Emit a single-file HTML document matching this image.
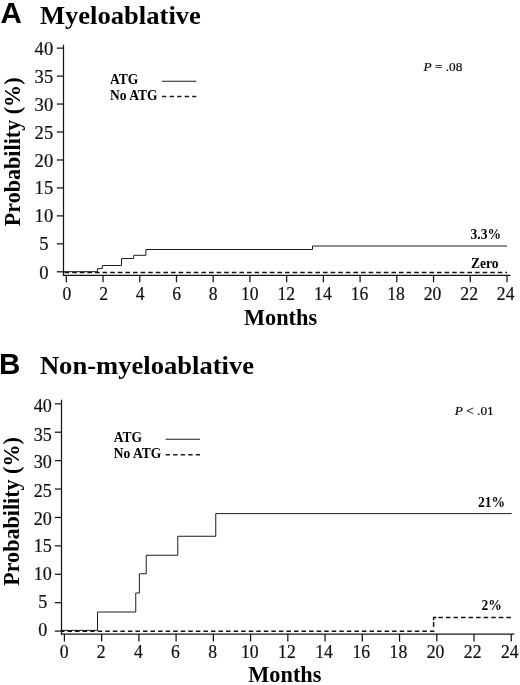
<!DOCTYPE html>
<html><head><meta charset="utf-8"><title>Figure</title>
<style>
html,body{margin:0;padding:0;background:#fff;}
svg{display:block;}
.s{font-family:"Liberation Serif",serif;}
.b{font-family:"Liberation Serif",serif;font-weight:bold;}
.h{font-family:"Liberation Sans",sans-serif;font-weight:bold;}
</style></head><body>
<svg width="520" height="685" viewBox="0 0 520 685">
<rect width="520" height="685" fill="#fff"/>
<g>
<text class="h" x="0.6" y="23.0" font-size="29.6">A</text>
<text class="b" transform="translate(39.9 23.6) scale(1.047 1)" font-size="25.4">Myeloablative</text>
<g stroke="#141414" stroke-width="1.25" fill="none">
<path d="M63.5 44.8V275.95000000000005"/>
<path d="M62.9 275.35H510.5"/>
<path d="M56.8 271.80H63.5"/>
<path d="M56.8 243.84H63.5"/>
<path d="M56.8 215.89H63.5"/>
<path d="M56.8 187.93H63.5"/>
<path d="M56.8 159.98H63.5"/>
<path d="M56.8 132.02H63.5"/>
<path d="M56.8 104.06H63.5"/>
<path d="M56.8 76.11H63.5"/>
<path d="M56.8 48.15H63.5"/>
<path d="M66.30 275.35V282.25"/>
<path d="M103.03 275.35V282.25"/>
<path d="M139.75 275.35V282.25"/>
<path d="M176.48 275.35V282.25"/>
<path d="M213.20 275.35V282.25"/>
<path d="M249.93 275.35V282.25"/>
<path d="M286.65 275.35V282.25"/>
<path d="M323.38 275.35V282.25"/>
<path d="M360.10 275.35V282.25"/>
<path d="M396.83 275.35V282.25"/>
<path d="M433.55 275.35V282.25"/>
<path d="M470.28 275.35V282.25"/>
<path d="M507.00 275.35V282.25"/>
</g>
<g class="s" font-size="17.4" fill="#111" stroke="#111" stroke-width="0.2">
<text transform="translate(43.9 278.76) scale(0.975 1)" font-size="19.1" text-anchor="middle">0</text>
<text transform="translate(43.9 250.06) scale(0.975 1)" font-size="19.1" text-anchor="middle">5</text>
<text transform="translate(43.9 222.16) scale(0.975 1)" font-size="19.1" text-anchor="middle">10</text>
<text transform="translate(43.9 194.36) scale(0.975 1)" font-size="19.1" text-anchor="middle">15</text>
<text transform="translate(43.9 166.51) scale(0.975 1)" font-size="19.1" text-anchor="middle">20</text>
<text transform="translate(43.9 138.66) scale(0.975 1)" font-size="19.1" text-anchor="middle">25</text>
<text transform="translate(43.9 110.86) scale(0.975 1)" font-size="19.1" text-anchor="middle">30</text>
<text transform="translate(43.9 83.06) scale(0.975 1)" font-size="19.1" text-anchor="middle">35</text>
<text transform="translate(43.9 54.66) scale(0.975 1)" font-size="19.1" text-anchor="middle">40</text>
<text transform="translate(67.00 299.9) scale(0.92 1)" font-size="19.2" text-anchor="middle">0</text>
<text transform="translate(103.56 299.9) scale(0.92 1)" font-size="19.2" text-anchor="middle">2</text>
<text transform="translate(140.12 299.9) scale(0.92 1)" font-size="19.2" text-anchor="middle">4</text>
<text transform="translate(176.68 299.9) scale(0.92 1)" font-size="19.2" text-anchor="middle">6</text>
<text transform="translate(213.23 299.9) scale(0.92 1)" font-size="19.2" text-anchor="middle">8</text>
<text transform="translate(249.79 299.9) scale(0.92 1)" font-size="19.2" text-anchor="middle">10</text>
<text transform="translate(286.35 299.9) scale(0.92 1)" font-size="19.2" text-anchor="middle">12</text>
<text transform="translate(322.91 299.9) scale(0.92 1)" font-size="19.2" text-anchor="middle">14</text>
<text transform="translate(359.47 299.9) scale(0.92 1)" font-size="19.2" text-anchor="middle">16</text>
<text transform="translate(396.02 299.9) scale(0.92 1)" font-size="19.2" text-anchor="middle">18</text>
<text transform="translate(432.58 299.9) scale(0.92 1)" font-size="19.2" text-anchor="middle">20</text>
<text transform="translate(469.14 299.9) scale(0.92 1)" font-size="19.2" text-anchor="middle">22</text>
<text transform="translate(505.70 299.9) scale(0.92 1)" font-size="19.2" text-anchor="middle">24</text>
</g>
<text class="b" font-size="22.1" transform="translate(20.3 226.2) rotate(-90)">Probability (%)</text>
<text class="b" font-size="22.3" x="244" y="324.7">Months</text>
<text class="s" font-size="13.3" x="423.5" y="71" stroke="#111" stroke-width="0.2"><tspan font-style="italic">P</tspan> = .08</text>
<text class="b" font-size="14.3" transform="translate(110 84.4) scale(0.945 1)">ATG</text>
<text class="b" font-size="14.3" transform="translate(110 100.0) scale(0.945 1)">No ATG</text>
<path d="M162 81.3H196.3" stroke="#1c1c1c" stroke-width="1.05" fill="none"/>
<path d="M162 96.5H196.3" stroke="#1c1c1c" stroke-width="1.5" stroke-dasharray="4.4 3.15" fill="none"/>
<path d="M63.5 271.7H97.5V268.6H102.3V265.5H121.5V258.5H133.7V255.3H145.9V249.5H312.5V246H507" stroke="#1c1c1c" stroke-width="1.0" fill="none"/>
<path d="M64.6 272.5H507" stroke="#111" stroke-width="1.45" stroke-dasharray="4.6 3.0" fill="none"/>
<text class="b" font-size="14.3" transform="translate(470.5 238.60000000000002) scale(0.945 1)">3.3%</text>
<text class="b" font-size="14.3" transform="translate(471 267.8) scale(0.945 1)">Zero</text>
</g>
<g>
<text class="h" x="-0.9" y="373.7" font-size="29.6">B</text>
<text class="b" transform="translate(39.9 374.4) scale(1.047 1)" font-size="25.4">Non-myeloablative</text>
<g stroke="#141414" stroke-width="1.25" fill="none">
<path d="M61.5 399.7V634.6"/>
<path d="M60.9 634.0H514.3"/>
<path d="M54.8 631.10H61.5"/>
<path d="M54.8 602.69H61.5"/>
<path d="M54.8 574.27H61.5"/>
<path d="M54.8 545.86H61.5"/>
<path d="M54.8 517.45H61.5"/>
<path d="M54.8 489.04H61.5"/>
<path d="M54.8 460.62H61.5"/>
<path d="M54.8 432.21H61.5"/>
<path d="M54.8 403.80H61.5"/>
<path d="M64.40 634.0V641.6"/>
<path d="M101.64 634.0V641.6"/>
<path d="M138.88 634.0V641.6"/>
<path d="M176.11 634.0V641.6"/>
<path d="M213.35 634.0V641.6"/>
<path d="M250.59 634.0V641.6"/>
<path d="M287.83 634.0V641.6"/>
<path d="M325.06 634.0V641.6"/>
<path d="M362.30 634.0V641.6"/>
<path d="M399.54 634.0V641.6"/>
<path d="M436.78 634.0V641.6"/>
<path d="M474.01 634.0V641.6"/>
<path d="M511.25 634.0V641.6"/>
</g>
<g class="s" font-size="17.4" fill="#111" stroke="#111" stroke-width="0.2">
<text transform="translate(42.7 636.32) scale(0.94 1)" font-size="19.3" text-anchor="middle">0</text>
<text transform="translate(42.7 608.02) scale(0.94 1)" font-size="19.3" text-anchor="middle">5</text>
<text transform="translate(42.7 580.22) scale(0.94 1)" font-size="19.3" text-anchor="middle">10</text>
<text transform="translate(42.7 552.42) scale(0.94 1)" font-size="19.3" text-anchor="middle">15</text>
<text transform="translate(42.7 524.62) scale(0.94 1)" font-size="19.3" text-anchor="middle">20</text>
<text transform="translate(42.7 496.82) scale(0.94 1)" font-size="19.3" text-anchor="middle">25</text>
<text transform="translate(42.7 468.42) scale(0.94 1)" font-size="19.3" text-anchor="middle">30</text>
<text transform="translate(42.7 440.92) scale(0.94 1)" font-size="19.3" text-anchor="middle">35</text>
<text transform="translate(42.7 412.02) scale(0.94 1)" font-size="19.3" text-anchor="middle">40</text>
<text transform="translate(64.10 658.4) scale(0.95 1)" font-size="18.6" text-anchor="middle">0</text>
<text transform="translate(101.24 658.4) scale(0.95 1)" font-size="18.6" text-anchor="middle">2</text>
<text transform="translate(138.38 658.4) scale(0.95 1)" font-size="18.6" text-anchor="middle">4</text>
<text transform="translate(175.53 658.4) scale(0.95 1)" font-size="18.6" text-anchor="middle">6</text>
<text transform="translate(212.67 658.4) scale(0.95 1)" font-size="18.6" text-anchor="middle">8</text>
<text transform="translate(249.81 658.4) scale(0.95 1)" font-size="18.6" text-anchor="middle">10</text>
<text transform="translate(286.95 658.4) scale(0.95 1)" font-size="18.6" text-anchor="middle">12</text>
<text transform="translate(324.09 658.4) scale(0.95 1)" font-size="18.6" text-anchor="middle">14</text>
<text transform="translate(361.23 658.4) scale(0.95 1)" font-size="18.6" text-anchor="middle">16</text>
<text transform="translate(398.38 658.4) scale(0.95 1)" font-size="18.6" text-anchor="middle">18</text>
<text transform="translate(435.52 658.4) scale(0.95 1)" font-size="18.6" text-anchor="middle">20</text>
<text transform="translate(472.66 658.4) scale(0.95 1)" font-size="18.6" text-anchor="middle">22</text>
<text transform="translate(509.80 658.4) scale(0.95 1)" font-size="18.6" text-anchor="middle">24</text>
</g>
<text class="b" font-size="22.1" transform="translate(19.4 585.8) rotate(-90)">Probability (%)</text>
<text class="b" font-size="22.3" x="248.3" y="682">Months</text>
<text class="s" font-size="13.3" x="454.8" y="415" stroke="#111" stroke-width="0.2"><tspan font-style="italic">P</tspan> &lt; .01</text>
<text class="b" font-size="14.3" transform="translate(113.75 442.4) scale(0.945 1)">ATG</text>
<text class="b" font-size="14.3" transform="translate(113.75 458.0) scale(0.945 1)">No ATG</text>
<path d="M165.6 439.2H200" stroke="#1c1c1c" stroke-width="1.05" fill="none"/>
<path d="M165.6 454.8H200" stroke="#1c1c1c" stroke-width="1.5" stroke-dasharray="4.4 3.15" fill="none"/>
<path d="M61.5 630.4H97.5V612H135.75V593H139.4V573.75H146.25V555.25H177.75V536.25H215.75V513.6H511.7" stroke="#1c1c1c" stroke-width="1.0" fill="none"/>
<path d="M434.4 631.3H61.5" stroke="#111" stroke-width="1.45" stroke-dasharray="4.5 3.05" fill="none"/>
<path d="M433.6 626.9V622.1" stroke="#111" stroke-width="1.45" fill="none"/>
<path d="M433.6 620.3V617.5H436.4" stroke="#111" stroke-width="1.45" fill="none"/>
<path d="M438.4 617.5H511.3" stroke="#111" stroke-width="1.45" stroke-dasharray="4.5 3.05" fill="none"/>
<text class="b" font-size="14.3" transform="translate(478 507.1) scale(0.945 1)">21%</text>
<text class="b" font-size="14.3" transform="translate(481.5 609.55) scale(0.945 1)">2%</text>
</g>
</svg>
</body></html>
